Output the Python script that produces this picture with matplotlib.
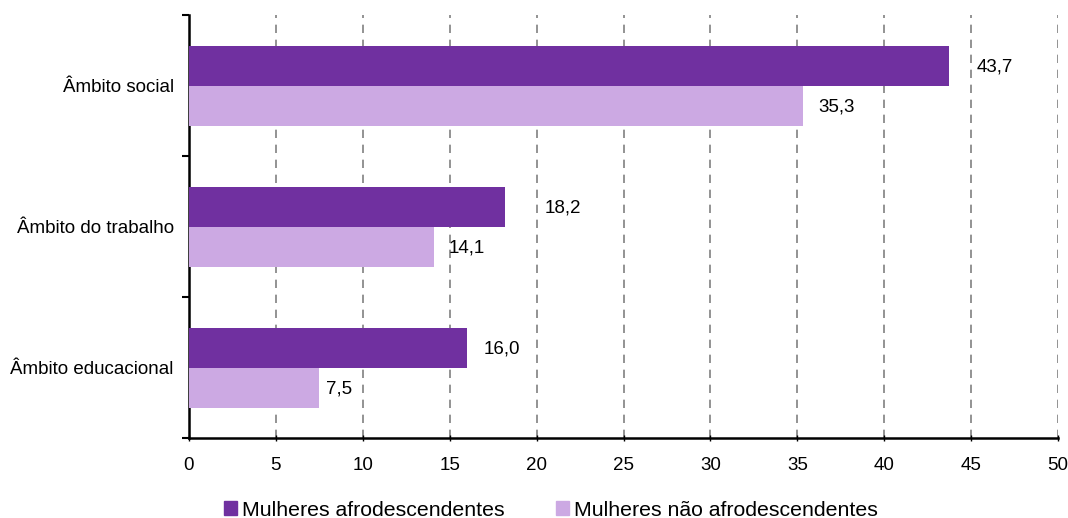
import matplotlib
matplotlib.use("Agg")
import matplotlib.pyplot as plt
import numpy as np
from matplotlib.patches import Patch

plt.rcParams['font.family'] = ['Liberation Sans', 'DejaVu Sans']

categories = ["Âmbito social", "Âmbito do trabalho", "Âmbito educacional"]
afro = [43.7, 18.2, 16.0]
nao_afro = [35.3, 14.1, 7.5]
series_names = ["Mulheres afrodescendentes", "Mulheres não afrodescendentes"]
x_ticks = [0, 5, 10, 15, 20, 25, 30, 35, 40, 45, 50]

dark = "#7030A0"
light = "#CCA9E3"

fig = plt.figure(figsize=(10.68, 5.18), dpi=100)
ax = fig.add_axes([189/1068, 1-438/518, (1058-189)/1068, (438-15)/518])

n = len(categories)
centers = np.arange(n)[::-1] + 0.5   # first category on top
h = 40/141
ax.barh(centers + h/2, afro, height=h, color=dark, zorder=3)
ax.barh(centers - h/2, nao_afro, height=h, color=light, zorder=3)

# value labels (comma decimal)
dark_off = [28, 39, 17]
light_off = [16, 15, 7]
for i, c in enumerate(centers):
    ax.annotate(f"{afro[i]:.1f}".replace(".", ","), (afro[i], c + h/2),
                xytext=(dark_off[i]*0.72, -1), textcoords="offset points",
                va="center", ha="left", fontsize=13.5)
    ax.annotate(f"{nao_afro[i]:.1f}".replace(".", ","), (nao_afro[i], c - h/2),
                xytext=(light_off[i]*0.72, -1), textcoords="offset points",
                va="center", ha="left", fontsize=13.5)

ax.set_xlim(0, 50)
ax.set_ylim(0, n)
ax.set_xticks(x_ticks)
ax.set_xticklabels([str(t) for t in x_ticks], fontsize=13.5)
ax.set_yticks(np.arange(n + 1))
ax.set_yticklabels([])
ax.set_yticks(centers, minor=True)
ax.set_yticklabels(categories, minor=True, fontsize=13.5)
ax.tick_params(axis='y', which='minor', length=0, pad=11)
ax.tick_params(axis='y', which='major', length=5, width=1.5, direction='out')
ax.tick_params(axis='x', length=5, width=1, direction='inout', pad=11)

ax.grid(axis='x', color='#808080', linestyle=(0, (5, 4)), linewidth=1.2, zorder=0)
for s in ['top', 'right']:
    ax.spines[s].set_visible(False)
for s in ['left', 'bottom']:
    ax.spines[s].set_linewidth(1.8)
    ax.spines[s].set_color('black')

handles = [Patch(color=dark), Patch(color=light)]
fig.legend(handles, series_names, loc='lower center', bbox_to_anchor=(0.516, -0.04),
           ncol=2, frameon=False, fontsize=15.3, handlelength=0.6, handleheight=0.6,
           handletextpad=0.25, columnspacing=2.4)

fig.savefig("out.png", dpi=100)
